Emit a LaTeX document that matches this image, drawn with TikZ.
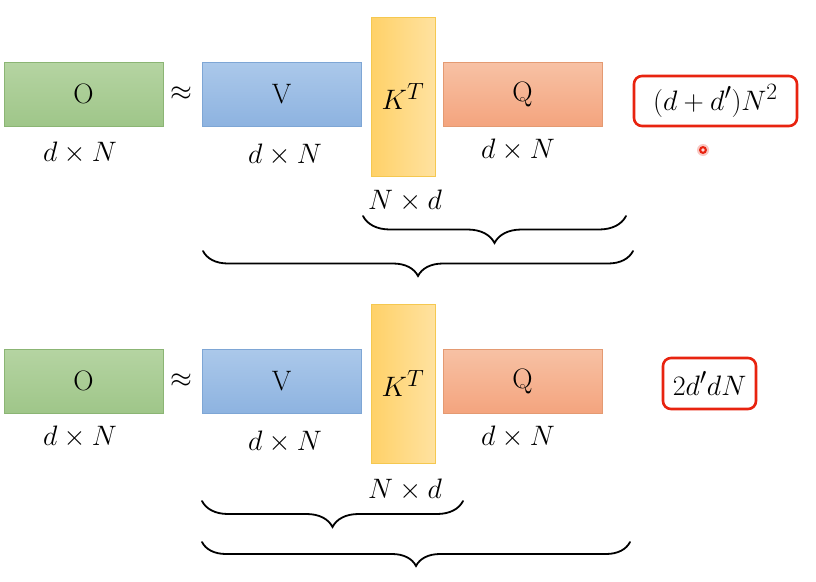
\documentclass[tikz,border=0pt]{standalone}
\usetikzlibrary{decorations.pathreplacing}
\begin{document}
\definecolor{gTop}{HTML}{B5D4A2}\definecolor{gBot}{HTML}{9FC689}\definecolor{gEdge}{HTML}{8BB574}
\definecolor{bTop}{HTML}{ABC8EA}\definecolor{bBot}{HTML}{8DB3E0}\definecolor{bEdge}{HTML}{7EA6D5}
\definecolor{yL}{HTML}{FFD168}\definecolor{yR}{HTML}{FFE2A0}\definecolor{yEdge}{HTML}{F5C850}
\definecolor{oTop}{HTML}{F7C1A4}\definecolor{oBot}{HTML}{F4A47E}\definecolor{oEdge}{HTML}{E49A72}
\definecolor{redbox}{HTML}{E8230F}
\newcommand\bigtxt[1]{\scalebox{1.13}{#1}}
\begin{tikzpicture}[x=1pt,y=-1pt,
  mat/.style={rectangle,draw,line width=0.8pt,inner sep=0pt,font=\Huge},
  wide/.style={mat,minimum width=159pt,minimum height=64pt},
  omat/.style={wide,draw=gEdge,top color=gTop,bottom color=gBot},
  vmat/.style={wide,draw=bEdge,top color=bTop,bottom color=bBot},
  qmat/.style={wide,draw=oEdge,top color=oTop,bottom color=oBot},
  kmat/.style={mat,draw=yEdge,left color=yL,right color=yR,minimum width=64pt,minimum height=159pt},
  dim/.style={font=\Huge,inner sep=0pt},
  cost/.style={draw=redbox,line width=2.6pt,rounded corners=8pt,fill=white,inner sep=0pt,font=\Huge},
  brc/.style={decorate,line width=1.8pt,line cap=round}
]
\useasboundingbox (0,0) rectangle (816,581);
\fill[white] (0,0) rectangle (816,581);
% ---------- top row ----------
\node[omat] (O1) at (83.5,94) {\bigtxt{O}};
\node[dim] (ap1) at (181,94) {\bigtxt{$\approx$}};
\node[vmat] (V1) at (281.5,94.5) {\bigtxt{V}};
\node[kmat] (K1) at (403,96.5) {\bigtxt{$K^T$}};
\node[qmat] (Q1) at (522.5,94.5) {\bigtxt{Q}};
\node[cost,minimum width=163pt,minimum height=50pt] (C1) at (715.5,101) {\bigtxt{$(d+d')N^2$}};
\node[dim] (dO1) at (80,153) {\bigtxt{$d\times N$}};
\node[dim] (dV1) at (285,155) {\bigtxt{$d\times N$}};
\node[dim] (dQ1) at (518,150) {\bigtxt{$d\times N$}};
\node[dim] (dK1) at (405,201) {\bigtxt{$N\times d$}};
\fill[redbox!25] (703,150) circle (6pt);
\fill[redbox] (703,150) circle (4pt);
\fill[white!85!red] (703,150) circle (1.8pt);
\coordinate (a1) at (363,216); \coordinate (b1) at (626,216);
\coordinate (a2) at (203,251); \coordinate (b2) at (633,251);
\draw[brc,decoration={brace,amplitude=27pt,mirror}] (a1) -- (b1);
\draw[brc,decoration={brace,amplitude=25pt,mirror}] (a2) -- (b2);
% ---------- bottom row ----------
\node[omat] (O2) at (83.5,381) {\bigtxt{O}};
\node[dim] (ap2) at (181,381) {\bigtxt{$\approx$}};
\node[vmat] (V2) at (281.5,381.5) {\bigtxt{V}};
\node[kmat] (K2) at (403,383.5) {\bigtxt{$K^T$}};
\node[qmat] (Q2) at (522.5,381.5) {\bigtxt{Q}};
\node[cost,minimum width=93pt,minimum height=51pt] (C2) at (709.5,383.5) {\bigtxt{$2d'dN$}};
\node[dim] (dO2) at (80,437) {\bigtxt{$d\times N$}};
\node[dim] (dV2) at (285,442) {\bigtxt{$d\times N$}};
\node[dim] (dQ2) at (518,437) {\bigtxt{$d\times N$}};
\node[dim] (dK2) at (405,490) {\bigtxt{$N\times d$}};
\coordinate (a3) at (202,501); \coordinate (b3) at (463,501);
\coordinate (a4) at (202,542); \coordinate (b4) at (630,542);
\draw[brc,decoration={brace,amplitude=26pt,mirror}] (a3) -- (b3);
\draw[brc,decoration={brace,amplitude=24pt,mirror}] (a4) -- (b4);
\end{tikzpicture}
\end{document}
